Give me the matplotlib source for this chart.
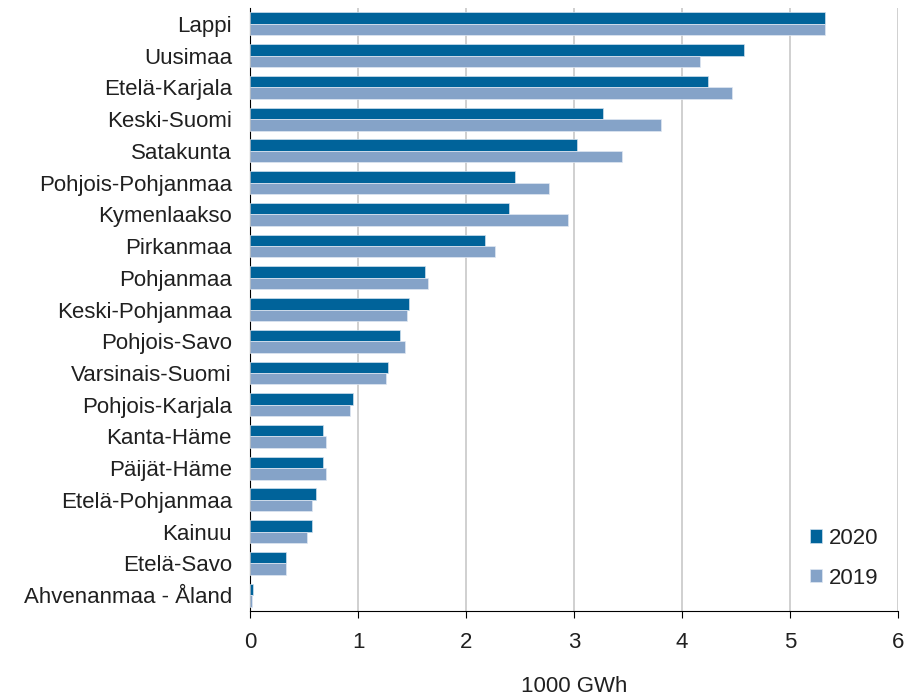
import numpy as np
import matplotlib.pyplot as plt

plt.rcParams['font.family'] = ['Liberation Sans', 'DejaVu Sans']

regions = ["Lappi", "Uusimaa", "Etelä-Karjala", "Keski-Suomi", "Satakunta",
           "Pohjois-Pohjanmaa", "Kymenlaakso", "Pirkanmaa", "Pohjanmaa",
           "Keski-Pohjanmaa", "Pohjois-Savo", "Varsinais-Suomi",
           "Pohjois-Karjala", "Kanta-Häme", "Päijät-Häme", "Etelä-Pohjanmaa",
           "Kainuu", "Etelä-Savo", "Ahvenanmaa - Åland"]
v2020 = [5.32, 4.57, 4.24, 3.27, 3.03, 2.45, 2.40, 2.18, 1.62, 1.475,
         1.385, 1.275, 0.95, 0.68, 0.68, 0.61, 0.57, 0.33, 0.024]
v2019 = [5.32, 4.17, 4.46, 3.81, 3.44, 2.77, 2.94, 2.27, 1.65, 1.455,
         1.436, 1.255, 0.93, 0.70, 0.70, 0.57, 0.53, 0.33, 0.02]
xticks = [0, 1, 2, 3, 4, 5, 6]

fs = 16
fig = plt.figure(figsize=(9.08, 6.96), dpi=100)
ax = fig.add_axes([250 / 908, 1 - 611 / 696, 648 / 908, 603 / 696])

y = np.arange(len(regions))
h = 0.36
ax.barh(y - h / 2, v2020, height=h, color="#00639a", edgecolor="#d0e0ee",
        linewidth=0.5, label="2020", zorder=3)
ax.barh(y + h / 2, v2019, height=h, color="#85a3c8", edgecolor="#e0e8f2",
        linewidth=0.5, label="2019", zorder=3)

ax.set_ylim(len(regions) - 0.5, -0.5)
ax.set_xlim(0, 6)
ax.set_xticks(xticks)
ax.set_yticks(y)
ax.set_yticklabels(regions, fontsize=fs, color='#202020')
ax.tick_params(axis='x', labelsize=fs, labelcolor='#202020', length=5,
               color='black', pad=10)
ax.tick_params(axis='y', length=0, pad=13)
ax.grid(axis='x', color='#c8c8c8', linewidth=1.2, zorder=0)
for s in ['top', 'right']:
    ax.spines[s].set_visible(False)
ax.spines['left'].set_color('black')
ax.spines['bottom'].set_color('black')
ax.set_xlabel("1000 GWh", fontsize=fs, color='#202020', labelpad=17)

ax.legend(loc='upper left', bbox_to_anchor=(0.864, 0.138), frameon=False,
          fontsize=fs, handlelength=0.54, handleheight=0.54,
          handletextpad=0.3, labelspacing=0.85, borderpad=0,
          borderaxespad=0, labelcolor='#202020')

fig.savefig("out.png", dpi=100)
